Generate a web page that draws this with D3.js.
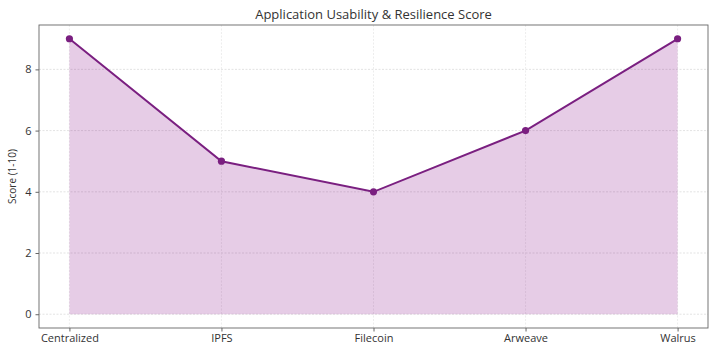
<!DOCTYPE html>
<html><head><meta charset="utf-8">
<script src="https://cdn.jsdelivr.net/npm/d3@7"></script>
<style>body{margin:0;background:#fff;} svg{display:block;font-family:"Open Sans",Roboto,sans-serif;}</style>
</head><body>
<svg id="c" width="719" height="351"></svg>
<script>
const categories = ["Centralized", "IPFS", "Filecoin", "Arweave", "Walrus"];
const scores = [9, 5, 4, 6, 9];
const yTicks = [0, 2, 4, 6, 8];
const title = "Application Usability & Resilience Score";
const yLabel = "Score (1-10)";

const svg = d3.select("#c");
const L = 39, R = 708, T = 25, B = 328;
const x = d3.scaleLinear().domain([-0.2, categories.length - 1 + 0.2]).range([L, R]);
const y = d3.scaleLinear().domain([-0.45, 9.45]).range([B, T]);

// grid
svg.append("g").selectAll("line").data(yTicks).join("line")
  .attr("x1", L).attr("x2", R).attr("y1", d => y(d)).attr("y2", d => y(d))
  .attr("stroke", "#dcdcdc").attr("stroke-width", 0.8).attr("stroke-dasharray", "2,1.5");
svg.append("g").selectAll("line").data(categories).join("line")
  .attr("x1", (d, i) => x(i)).attr("x2", (d, i) => x(i)).attr("y1", T).attr("y2", B)
  .attr("stroke", "#e8e8e8").attr("stroke-width", 0.8).attr("stroke-dasharray", "2,1.5");

// area
const area = d3.area().x((d, i) => x(i)).y0(y(0)).y1(d => y(d));
svg.append("path").datum(scores).attr("d", area).attr("fill", "#800080").attr("fill-opacity", 0.2);
const line = d3.line().x((d, i) => x(i)).y(d => y(d));
svg.append("path").datum(scores).attr("d", line).attr("fill", "none").attr("stroke", "#7a1f80").attr("stroke-width", 2);
svg.append("g").selectAll("circle").data(scores).join("circle")
  .attr("cx", (d, i) => x(i)).attr("cy", d => y(d)).attr("r", 3.6).attr("fill", "#7a1f80");

// frame
svg.append("rect").attr("x", L).attr("y", T).attr("width", R - L).attr("height", B - T)
  .attr("fill", "none").attr("stroke", "#666").attr("stroke-width", 0.9);

// axes
const yAxis = d3.axisLeft(y).tickValues(yTicks).tickSize(3.5).tickPadding(4);
const gy = svg.append("g").attr("transform", `translate(${L},0)`).call(yAxis);
const xAxis = d3.axisBottom(x).tickValues(d3.range(categories.length)).tickFormat(i => categories[i]).tickSize(3.5).tickPadding(3);
const gx = svg.append("g").attr("transform", `translate(0,${B})`).call(xAxis);
[gx, gy].forEach(g => {
  g.select(".domain").remove();
  g.selectAll(".tick line").attr("stroke", "#666");
  g.selectAll(".tick text").attr("fill", "#333").attr("font-size", 11).attr("font-family", "'Open Sans', Roboto, sans-serif");
});

svg.append("text").attr("x", (L + R) / 2).attr("y", 19).attr("text-anchor", "middle")
  .attr("font-size", 13).attr("fill", "#333").text(title);
svg.append("text").attr("transform", `translate(16,${(T + B) / 2}) rotate(-90)`).attr("text-anchor", "middle")
  .attr("font-size", 10).attr("fill", "#333").text(yLabel);
</script>
</body></html>
